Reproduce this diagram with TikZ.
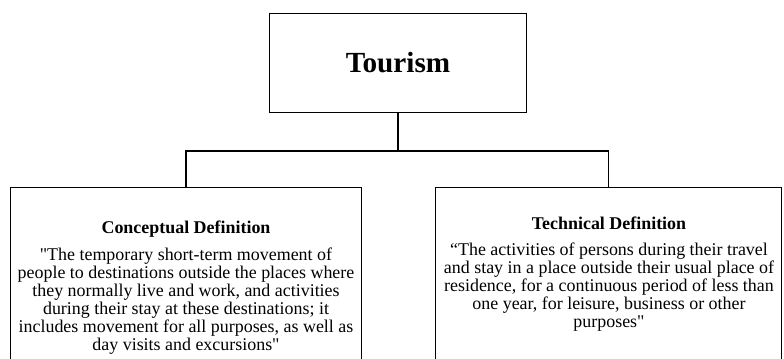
\documentclass[tikz,border=0pt]{standalone}
\usepackage{fontspec}
\setmainfont{Liberation Serif}
\begin{document}
\begin{tikzpicture}[x=1bp, y=-1bp, line width=1.2bp,
		box/.style = {draw, rectangle, inner sep = 0},
		deftitle/.style = {anchor = base, font = \fontsize{18}{18}\selectfont\bfseries},
		deftext/.style = {anchor = north, align = center, inner sep = 0, font = \fontsize{18}{18}\selectfont}]
			\useasboundingbox (0,0) rectangle (784,358);
			\clip (0,0) rectangle (784,358);
			\node[box, minimum width = 258, minimum height = 100] (tour) at (398,63) {\fontsize{29.3}{32}\selectfont\bfseries Tourism};
			\node[box, minimum width = 352, minimum height = 220] (concept) at (186,297) {};
			\node[box, minimum width = 347, minimum height = 220] (tech) at (608.5,297) {};
			\coordinate (fork) at (398,151);
			\node[deftitle] (concepttitle) at (186,233) {Conceptual Definition};
			\node[deftext] (concepttext) at (186,247.4) {\textquotedbl The temporary short-term movement of\\people to destinations outside the places where\\they normally live and work, and activities\\during their stay at these destinations; it\\includes movement for all purposes, as well as\\day visits and excursions\textquotedbl};
			\node[deftitle] (techtitle) at (609,229) {Technical Definition};
			\node[deftext] (techtext) at (609,242.4) {“The activities of persons during their travel\\and stay in a place outside their usual place of\\residence, for a continuous period of less than\\one year, for leisure, business or other\\purposes\textquotedbl};
			\draw (tour.south) -- (fork);
			\draw (fork) -| (concept.north);
			\draw (fork) -| (tech.north);
		\end{tikzpicture}
\end{document}
